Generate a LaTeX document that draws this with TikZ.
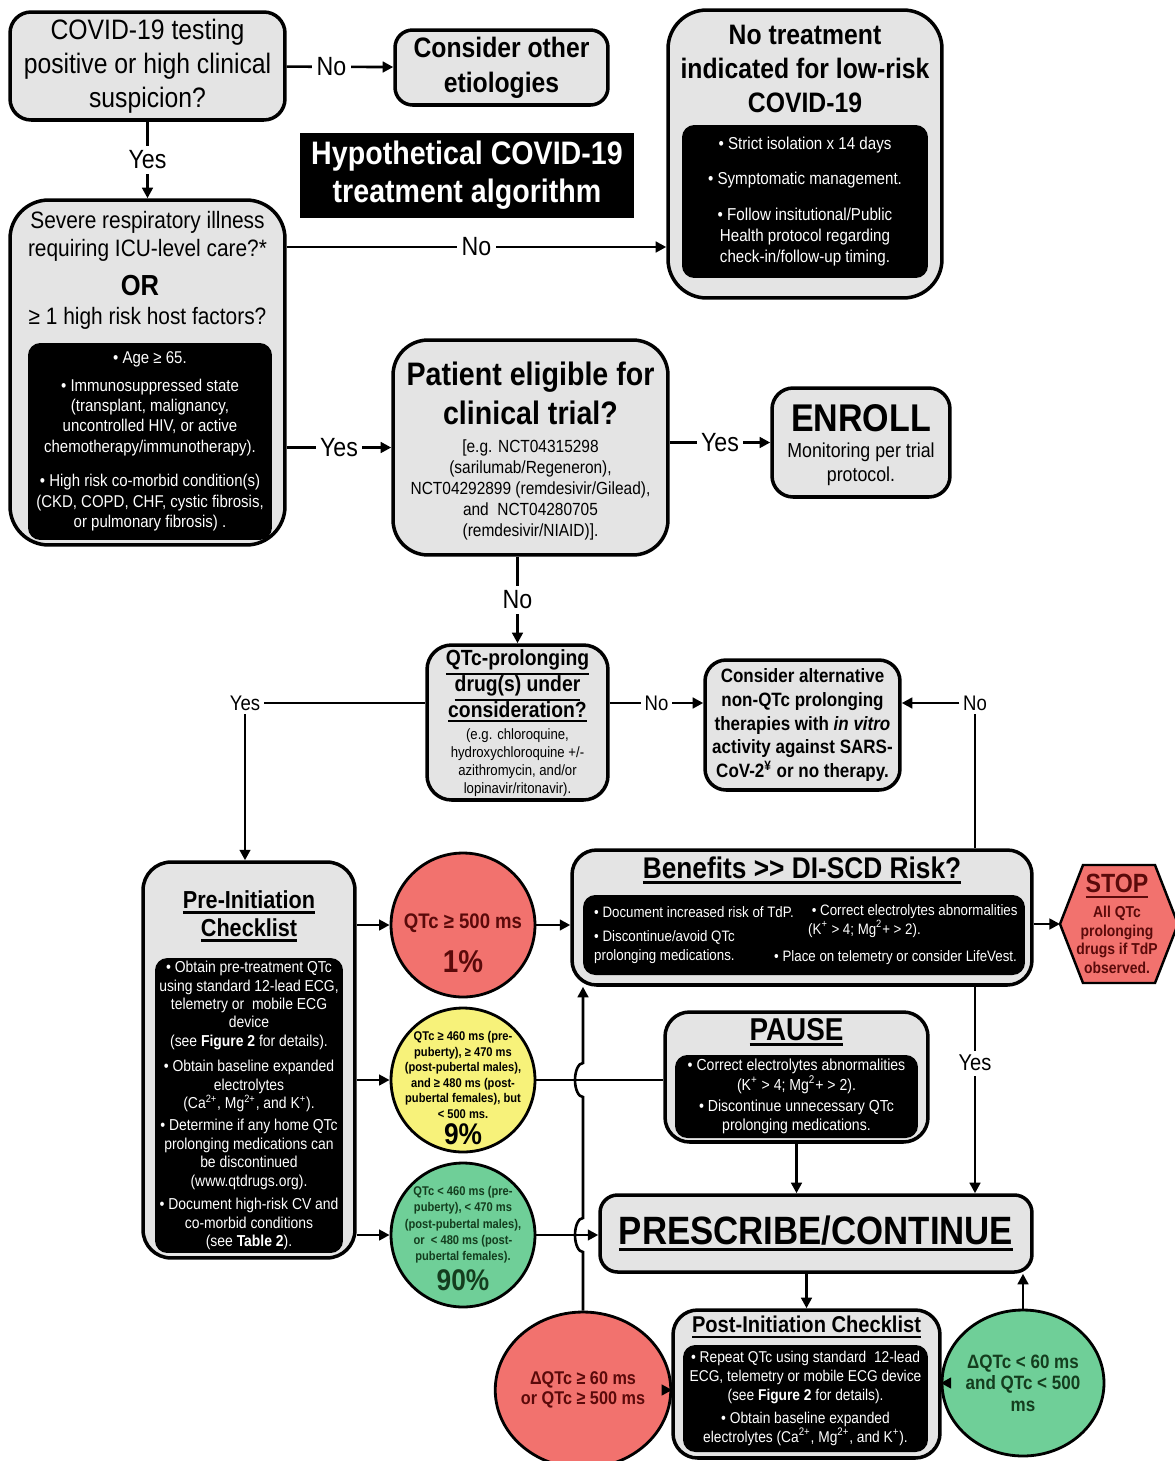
\documentclass[tikz,border=0pt]{standalone}
\usepackage{fontspec}
\setmainfont{Liberation Sans}[FakeStretch=0.88]
\usetikzlibrary{arrows.meta, shapes.geometric}
\definecolor{boxGray}{HTML}{E4E4E4}
\definecolor{qtRed}{HTML}{F2726E}
\definecolor{qtYellow}{HTML}{F7F27A}
\definecolor{qtGreen}{HTML}{6FCF98}
\definecolor{darkRed}{HTML}{5A0A0A}
\definecolor{darkGreen}{HTML}{143D1E}
\newcommand{\hdl}[1]{\vtop{\hbox{#1}\kern1.6pt\hrule height 1.3pt}}

\begin{document}
\begin{tikzpicture}[x=0.02cm, y=-0.02cm,
    flowbox/.style={draw, line width=2pt, fill=boxGray, rounded corners=#1, inner sep=0pt, align=center},
    flowbox/.default=10pt,
    inkbox/.style={fill=black, text=white, rounded corners=7pt, inner sep=0pt, align=center},
    ring/.style={ellipse, draw, line width=1.6pt, inner sep=0pt},
    lbl/.style={fill=white, inner sep=2.5pt, font=\fontsize{15}{17}\selectfont},
    slbl/.style={fill=white, inner sep=2pt, font=\fontsize{12}{14}\selectfont},
    benetext/.style={anchor=west, text=white, align=left, font=\fontsize{8.6}{10.4}\selectfont},
    link/.style={line width=1.5pt},
    flow/.style={line width=1.5pt, -{Triangle[length=6pt,width=6pt]}}]
\useasboundingbox (0,0) rectangle (1175,1461);

% top part
\node[flowbox=12pt, minimum width=5.5cm, minimum height=2.16cm, font=\fontsize{16}{19.3}\selectfont]
    (test) at (147.5,66) {COVID-19 testing\\positive or high clinical\\suspicion?};
\node[flowbox=10pt, minimum width=4.26cm, minimum height=1.5cm, font=\bfseries\fontsize{16}{19.8}\selectfont]
    (other) at (501.5,67.5) {Consider other\\etiologies};
\node[fill=black, text=white, minimum width=6.68cm, minimum height=1.7cm, align=center,
    font=\bfseries\fontsize{18.5}{21.5}\selectfont] (title) at (467,175.5) {Hypothetical COVID-19\\treatment algorithm};

\node[flowbox=22pt, minimum width=5.48cm, minimum height=5.76cm] (notreat) at (805,154) {};
\node[align=center, font=\bfseries\fontsize{16}{19.3}\selectfont] (notreatT) at (805,69)
    {No treatment\\indicated for low-risk\\COVID-19};
\node[inkbox, minimum width=4.92cm, minimum height=3.06cm, font=\fontsize{9.8}{12}\selectfont] (notreatL) at (805,201.5)
    {• Strict isolation x 14 days\\[8pt]• Symptomatic management.\\[8pt]• Follow insitutional/Public\\Health protocol regarding\\check-in/follow-up timing.};

\node[flowbox=22pt, minimum width=5.5cm, minimum height=6.9cm] (severe) at (147.5,372.5) {};
\node[align=center, font=\fontsize{13.5}{16}\selectfont] (severeA) at (147.5,236)
    {Severe respiratory illness\\requiring ICU-level care?*};
\node[font=\bfseries\fontsize{16.5}{19}\selectfont] (severeOr) at (140,286) {OR};
\node[font=\fontsize{13.5}{16}\selectfont] (severeB) at (147.5,318) {≥ 1 high risk host factors?};
\node[inkbox, minimum width=4.88cm, minimum height=3.94cm, font=\fontsize{9.7}{11.6}\selectfont] (riskL) at (150,441.5)
    {• Age ≥ 65.\\[4pt]• Immunosuppressed state\\(transplant, malignancy,\\uncontrolled HIV, or active\\chemotherapy/immunotherapy).\\[8pt]• High risk co-morbid condition(s)\\(CKD, COPD, CHF, cystic fibrosis,\\or pulmonary fibrosis) .};

\node[flowbox=20pt, minimum width=5.5cm, minimum height=4.3cm] (trial) at (530.5,447.5) {};
\node[align=center, font=\bfseries\fontsize{18.5}{22}\selectfont] (trialT) at (530.5,393.5)
    {Patient eligible for\\clinical trial?};
\node[align=center, font=\fontsize{10}{11.9}\selectfont] (trialL) at (530.5,490)
    {[e.g. NCT04315298\\(sarilumab/Regeneron),\\NCT04292899 (remdesivir/Gilead),\\and~~NCT04280705\\(remdesivir/NIAID)].};

\node[flowbox=12pt, minimum width=3.56cm, minimum height=2.18cm] (enroll) at (861,442.5) {};
\node[font=\bfseries\fontsize{22}{25}\selectfont] (enrollT) at (861,418) {ENROLL};
\node[align=center, font=\fontsize{11.5}{13.6}\selectfont] (enrollL) at (861,464) {Monitoring per trial\\protocol.};

% drug question
\node[flowbox=14pt, minimum width=3.62cm, minimum height=3.1cm] (qtc) at (517.5,722.5) {};
\node[align=center, font=\bfseries\fontsize{12.5}{14.7}\selectfont] (qtcT) at (517.5,686)
    {\hdl{QTc-prolonging}\\\hdl{drug(s) under}\\\hdl{consideration?}};
\node[align=center, font=\fontsize{8.5}{10.2}\selectfont] (qtcL) at (517.5,763)
    {(e.g. chloroquine,\\hydroxychloroquine +/-\\azithromycin, and/or\\lopinavir/ritonavir).};
\node[flowbox=12pt, minimum width=3.9cm, minimum height=2.6cm, font=\bfseries\fontsize{11}{13.6}\selectfont] (alt) at (802.5,725)
    {Consider alternative\\non-QTc prolonging\\therapies with \textit{in vitro}\\activity against SARS-\\CoV-2\textsuperscript{¥} or no therapy.};

\node[slbl] (yesL) at (245,703) {Yes};
\node[slbl] (noR) at (975,703) {No};

% checklist and risk classes
\node[flowbox=16pt, minimum width=4.24cm, minimum height=7.92cm] (pre) at (249,1060) {};
\node[align=center, font=\bfseries\fontsize{14}{15.9}\selectfont] (preT) at (249,916)
    {\hdl{Pre-Initiation}\\\hdl{Checklist}};
\node[inkbox, minimum width=3.76cm, minimum height=5.9cm, font=\fontsize{9}{10.5}\selectfont] (preL) at (249,1105.5)
    {• Obtain pre-treatment QTc\\using standard 12-lead ECG,\\telemetry or~ mobile ECG\\device\\(see \textbf{Figure 2} for details).\\[4pt]
     • Obtain baseline expanded\\electrolytes\\(Ca\textsuperscript{2+}, Mg\textsuperscript{2+}, and K\textsuperscript{+}).\\[2pt]
     • Determine if any home QTc\\prolonging medications can\\be discontinued\\(www.qtdrugs.org).\\[3pt]
     • Document high-risk CV and\\co-morbid conditions\\(see \textbf{Table 2}).};

\node[ring, fill=qtRed, minimum width=2.88cm, minimum height=2.88cm] (red) at (463,925) {};
\node[text=darkRed, font=\bfseries\fontsize{12}{14}\selectfont] (redT) at (463,923) {QTc ≥ 500 ms};
\node[text=darkRed, font=\bfseries\fontsize{18}{20}\selectfont] (redP) at (463,962) {1\%};
\node[ring, fill=qtYellow, minimum width=2.88cm, minimum height=2.88cm] (yellow) at (463,1080) {};
\node[align=center, font=\bfseries\fontsize{7.2}{8.9}\selectfont] (yellowT) at (463,1075)
    {QTc ≥ 460 ms (pre-\\puberty), ≥ 470 ms\\(post-pubertal males),\\and ≥ 480 ms (post-\\pubertal females), but\\< 500 ms.};
\node[font=\bfseries\fontsize{17}{19}\selectfont] (yellowP) at (463,1134) {9\%};
\node[ring, fill=qtGreen, minimum width=2.88cm, minimum height=2.88cm] (green) at (463,1235) {};
\node[align=center, text=darkGreen, font=\bfseries\fontsize{7.2}{9.3}\selectfont] (greenT) at (463,1225)
    {QTc < 460 ms (pre-\\puberty), < 470 ms\\(post-pubertal males),\\or~ < 480 ms (post-\\pubertal females).};
\node[text=darkGreen, font=\bfseries\fontsize{17}{19}\selectfont] (greenP) at (463,1280) {90\%};

% decision on risk
\node[flowbox=14pt, minimum width=9.2cm, minimum height=2.7cm] (bene) at (802,917.5) {};
\node[font=\bfseries\fontsize{17}{19}\selectfont] (beneT) at (802,870) {\hdl{Benefits >{}> DI-SCD Risk?}};
\node[inkbox, minimum width=8.84cm, minimum height=1.6cm] (beneL) at (804,935) {};
\node[benetext] (beneA) at (588,912) {• Document increased risk of TdP.};
\node[benetext] (beneB) at (588,947) {• Discontinue/avoid QTc\\prolonging medications.};
\node[benetext] (beneC) at (802,921) {~• Correct electrolytes abnormalities\\(K\textsuperscript{+} > 4; Mg\textsuperscript{2}+ > 2).};
\node[benetext] (beneD) at (768,958) {• Place on telemetry or consider LifeVest.};

\fill[qtRed, draw=black, line width=1.4pt] (1083,865) -- (1155,865) -- (1178,924) -- (1155,983) -- (1083,983) -- (1060,924) -- cycle;
\coordinate (stopW) at (1060,924);
\node[text=darkRed, font=\bfseries\fontsize{15}{17}\selectfont] (stopT) at (1117,886) {\hdl{STOP}};
\node[align=center, text=darkRed, font=\bfseries\fontsize{9}{10.6}\selectfont] (stopL) at (1117,940)
    {All QTc\\prolonging\\drugs if TdP\\observed.};

\node[flowbox=14pt, minimum width=5.26cm, minimum height=2.6cm] (pause) at (796.5,1077) {};
\node[font=\bfseries\fontsize{18}{20}\selectfont] (pauseT) at (796.5,1032) {\hdl{PAUSE}};
\node[inkbox, minimum width=4.86cm, minimum height=1.66cm, font=\fontsize{9.1}{11}\selectfont] (pauseL) at (796.5,1096.5)
    {• Correct electrolytes abnormalities\\(K\textsuperscript{+} > 4; Mg\textsuperscript{2}+ > 2).\\[1pt]• Discontinue unnecessary QTc\\prolonging medications.};

\node[flowbox=10pt, minimum width=8.64cm, minimum height=1.54cm, font=\bfseries\fontsize{22.5}{25}\selectfont] (rx) at (816,1233.5)
    {\hdl{PRESCRIBE/CONTINUE}};

\node[flowbox=14pt, minimum width=5.34cm, minimum height=2.96cm] (post) at (806.5,1384) {};
\node[font=\bfseries\fontsize{13}{15}\selectfont] (postT) at (806.5,1327) {\hdl{Post-Initiation Checklist}};
\node[inkbox, minimum width=4.9cm, minimum height=2.14cm, font=\fontsize{8.9}{10.8}\selectfont] (postL) at (805.5,1398.5)
    {• Repeat QTc using standard~ 12-lead\\ECG, telemetry or mobile ECG device\\(see \textbf{Figure 2} for details).\\[2pt]• Obtain baseline expanded\\electrolytes (Ca\textsuperscript{2+}, Mg\textsuperscript{2+}, and K\textsuperscript{+}).};

\node[ring, fill=qtRed, minimum width=2.64cm, minimum height=3.12cm, align=center, text=darkRed,
    font=\bfseries\fontsize{10.5}{11.4}\selectfont] (red2) at (583,1390) {ΔQTc ≥ 60 ms\\or QTc ≥ 500 ms};
\node[ring, fill=qtGreen, minimum width=2.64cm, minimum height=2.92cm, align=center, text=darkGreen,
    font=\bfseries\fontsize{11}{12.2}\selectfont] (green2) at (1023,1383) {ΔQTc < 60 ms\\and QTc < 500\\ms};

% connectors
\draw[flow] (test) -- node[lbl, pos=0.42] {No} (other);
\draw[flow] (test) -- node[lbl] {Yes} (severe);
\draw[flow] (severe.east |- 0,247) -- node[lbl] {No} (notreat.west |- 0,247);
\draw[flow] (severe.east |- trial.west) -- node[lbl] {Yes} (trial.west);
\draw[flow] (trial.east |- enroll.west) -- node[lbl] {Yes} (enroll.west);
\draw[flow] (qtc.north |- trial.south) -- node[lbl] {No} (qtc.north);
\draw[flow] (qtc.east |- 0,703) -- node[slbl] {No} (alt.west |- 0,703);
\draw[link] (qtc.west |- yesL) -- (yesL.east);
\draw[flow] (yesL.south) -- (pre.north -| yesL);
\draw[link] (bene.north -| noR) -- (noR.south);
\draw[flow] (noR.west) -- (alt.east |- noR);

\draw[flow] (pre.east |- red) -- (red.west);
\draw[flow] (pre.east |- yellow) -- (yellow.west);
\draw[flow] (pre.east |- green) -- (green.west);
\draw[flow] (red.east) -- (bene.west |- red);
\draw[flow] (bene.east |- stopW) -- (stopW);
\draw[link] (yellow.east) -- (pause.west |- yellow);
\draw[flow] (green.east) -- (rx.west |- green);
\draw[flow] (pause.south) -- (rx.north -| pause.south);
\draw[flow] (bene.south -| noR) -- node[lbl, pos=0.37, font=\fontsize{13}{15}\selectfont] {Yes} (rx.north -| noR);
\draw[flow] (rx.south -| post.north) -- (post.north);
\draw[flow] (post.west |- red2) -- (red2.east);
\draw[flow] (post.east |- green2) -- (green2.west);
\draw[flow] (green2.north) -- (rx.south -| green2.north);
\draw[flow] (red2.north) -- (583,1252)
    arc[start angle=270, end angle=90, x radius=0.16cm, y radius=0.34cm] -- (583,1097)
    arc[start angle=270, end angle=90, x radius=0.16cm, y radius=0.34cm] -- (bene.south -| red2.north);
\end{tikzpicture}
\end{document}
